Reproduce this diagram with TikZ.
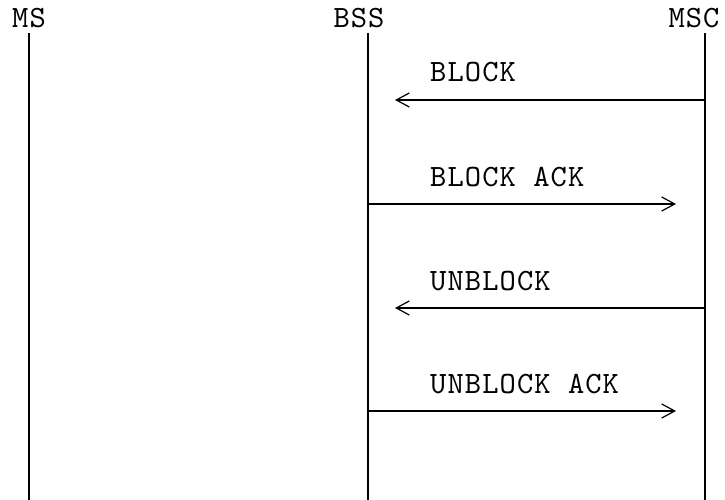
\documentclass[tikz,border=0pt]{standalone}
\usepackage{fontspec}
\setmonofont{lmmono10-regular.otf}[LetterSpace=3.5]
\usetikzlibrary{arrows.meta}
\tikzset{
  entity/.style={font=\ttfamily\fontsize{31}{32}\selectfont, inner sep=0pt, anchor=base},
  msg/.style={font=\ttfamily\fontsize{31}{32}\selectfont, inner sep=0pt, anchor=base west},
  life/.style={line width=1.6pt},
  sig/.style={line width=1.3pt, -{Straight Barb[length=13pt,width=14pt,line width=1.2pt]}}
}
\begin{document}
\begin{tikzpicture}[x=1pt,y=-1pt]
  \useasboundingbox (0,0) rectangle (725,500);
  % entities
  \node[entity] (MS) at (29,28) {MS};
  \node[entity] (BSS) at (359,28) {BSS};
  \node[entity] (MSC) at (694,28) {MSC};
  \coordinate (MStop) at (29,33);
  \coordinate (MSend) at (29,500);
  \coordinate (BSStop) at (368,33);
  \coordinate (BSSend) at (368,500);
  \coordinate (MSCtop) at (705,33);
  \coordinate (MSCend) at (705,500);
  \draw[life] (MStop) -- (MSend);
  \draw[life] (BSStop) -- (BSSend);
  \draw[life] (MSCtop) -- (MSCend);
  % messages
  \coordinate (MSC1) at (705,100);
  \coordinate (BSS1) at (395,100);
  \coordinate (BSS2) at (368,204);
  \coordinate (MSC2) at (676,204);
  \coordinate (MSC3) at (705,308);
  \coordinate (BSS3) at (395,308);
  \coordinate (BSS4) at (368,411);
  \coordinate (MSC4) at (676,411);
  \node[msg] (block) at (430,82) {BLOCK};
  \node[msg] (blockack) at (430,186) {BLOCK ACK};
  \node[msg] (unblock) at (430,290) {UNBLOCK};
  \node[msg] (unblockack) at (430,393) {UNBLOCK ACK};
  \draw[sig] (MSC1) -- (BSS1);
  \draw[sig] (BSS2) -- (MSC2);
  \draw[sig] (MSC3) -- (BSS3);
  \draw[sig] (BSS4) -- (MSC4);
\end{tikzpicture}
\end{document}
